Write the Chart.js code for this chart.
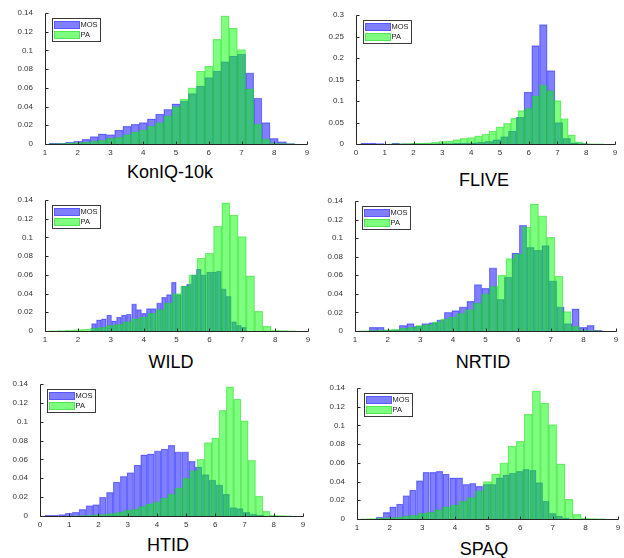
<!DOCTYPE html>
<html><head><meta charset="utf-8">
<script src="https://cdn.jsdelivr.net/npm/chart.js@4/dist/chart.umd.min.js"></script>
<style>
html,body{margin:0;padding:0;background:#fff;}
body{width:624px;height:558px;position:relative;overflow:hidden;font-family:"Liberation Sans",Arial,sans-serif;}
.panel{position:absolute;}
.title{position:absolute;font-size:18px;line-height:1;color:#000;transform:translate(-50%,-50%);white-space:nowrap;}
</style></head><body>
<script>
// ---------- DATA ----------
const panelTitles = ["KonIQ-10k", "FLIVE", "WILD", "NRTID", "HTID", "SPAQ"];
const seriesNames = ["MOS", "PA"];

// PA histogram (same predicted distribution in every panel), bin centres and densities
const paBinCenters = [1.25,1.5,1.75,2.0,2.25,2.5,2.75,3.0,3.25,3.5,3.75,4.0,4.25,4.5,4.75,5.0,5.25,5.5,5.75,6.0,6.25,6.5,6.75,7.0,7.25,7.5,7.75,8.0,8.25,8.5];
const paValues     = [0.0003,0.0005,0.001,0.0015,0.002,0.003,0.004,0.006,0.007,0.010,0.013,0.015,0.019,0.023,0.030,0.040,0.048,0.060,0.078,0.083,0.112,0.137,0.124,0.101,0.059,0.021,0.005,0.001,0.0005,0.0003];

// KonIQ-10k MOS
const konMosCenters = [1.25,1.5,1.75,2.0,2.25,2.5,2.75,3.0,3.25,3.5,3.75,4.0,4.25,4.5,4.75,5.0,5.25,5.5,5.75,6.0,6.25,6.5,6.75,7.0,7.25,7.5,7.75,8.0,8.25,8.5];
const konMosValues  = [0.0008,0.001,0.002,0.003,0.005,0.008,0.011,0.010,0.015,0.019,0.021,0.023,0.027,0.032,0.037,0.043,0.046,0.054,0.062,0.071,0.078,0.088,0.094,0.096,0.076,0.049,0.023,0.006,0.0025,0.0005];

// FLIVE MOS
const fliveMosCenters = [0.30,0.57,0.84,1.11,1.38,1.65,1.92,2.19,2.46,2.73,3.00,3.27,3.54,3.81,4.08,4.35,4.62,4.89,5.16,5.43,5.70,5.97,6.24,6.51,6.78,7.05,7.32,7.59,7.86];
const fliveMosValues  = [0.002,0.002,0.001,0,0.002,0.0005,0.0005,0.0005,0.0005,0.0005,0.001,0.001,0.0015,0.002,0.003,0.004,0.006,0.010,0.017,0.030,0.062,0.121,0.229,0.278,0.171,0.050,0.013,0.003,0.001];

// WILD MOS
const wildMosCenters = [2.49,2.64,2.79,2.95,3.10,3.25,3.40,3.55,3.71,3.86,4.01,4.16,4.31,4.47,4.62,4.77,4.92,5.07,5.23,5.38,5.53,5.68,5.83,5.99,6.14,6.29,6.44,6.59,6.75,6.90,7.05];
const wildMosValues  = [0.008,0.012,0.013,0.017,0.011,0.015,0.017,0.018,0.029,0.023,0.019,0.024,0.024,0.030,0.036,0.039,0.052,0.039,0.048,0.050,0.060,0.066,0.060,0.063,0.063,0.064,0.045,0.037,0.010,0.006,0.004];

// NRTID MOS
const nrtidMosCenters = [1.55,1.78,2.01,2.24,2.47,2.70,2.93,3.16,3.39,3.62,3.85,4.08,4.31,4.54,4.77,5.00,5.23,5.46,5.69,5.92,6.15,6.38,6.61,6.84,7.07,7.30,7.53,7.76,7.99,8.22,8.45];
const nrtidMosValues  = [0.004,0.004,0.001,0.001,0.006,0.008,0.005,0.008,0.009,0.012,0.020,0.022,0.026,0.032,0.050,0.046,0.068,0.034,0.058,0.084,0.114,0.090,0.087,0.092,0.054,0.026,0.008,0.024,0.004,0.006,0.001];

// HTID MOS
const htidMosCenters = [0.28,0.51,0.75,0.98,1.22,1.45,1.69,1.92,2.15,2.39,2.62,2.86,3.09,3.33,3.56,3.79,4.03,4.26,4.50,4.73,4.97,5.20,5.43,5.67,5.90,6.14,6.37,6.61,6.84,7.07,7.31,7.54];
const htidMosValues  = [0.001,0.001,0.0015,0.003,0.004,0.007,0.011,0.012,0.020,0.025,0.036,0.042,0.046,0.054,0.065,0.066,0.069,0.071,0.075,0.068,0.068,0.058,0.052,0.044,0.038,0.033,0.023,0.009,0.008,0.004,0.002,0.001];

// SPAQ MOS
const spaqMosCenters = [1.69,1.90,2.10,2.31,2.51,2.71,2.92,3.12,3.33,3.53,3.73,3.94,4.14,4.35,4.55,4.75,4.96,5.16,5.37,5.57,5.77,5.98,6.18,6.39,6.59,6.79,7.00,7.20,7.41];
const spaqMosValues  = [0.002,0.007,0.013,0.016,0.025,0.031,0.041,0.050,0.050,0.051,0.048,0.044,0.044,0.037,0.038,0.035,0.037,0.037,0.044,0.047,0.049,0.051,0.053,0.052,0.039,0.019,0.006,0.003,0.001];

// axis ranges / ticks per panel
const xMins   = [1, 0, 1, 1, 0, 1];
const xMaxs   = [9, 9, 9, 9, 9, 9];
const yMaxs   = [0.14, 0.3, 0.14, 0.14, 0.14, 0.14];
const ySteps  = [0.02, 0.05, 0.02, 0.02, 0.02, 0.02];

const mosCentersList = [konMosCenters, fliveMosCenters, wildMosCenters, nrtidMosCenters, htidMosCenters, spaqMosCenters];
const mosValuesList  = [konMosValues, fliveMosValues, wildMosValues, nrtidMosValues, htidMosValues, spaqMosValues];

// ---------- STYLE / LAYOUT ----------
const MOS_FILL = 'rgba(0,0,255,0.5)';
const PA_FILL  = 'rgba(0,255,0,0.5)';
const MOS_EDGE = 'rgba(40,40,255,0.45)';
const PA_EDGE  = 'rgba(30,200,30,0.45)';
const FONT = '"Liberation Sans", Arial, sans-serif';

// canvas boxes and plot rectangles (page pixels)
const layouts = [
  {cx:0,   cy:0,   cw:312, ch:160, L:45,  R:307, T:13,  B:144, tx:170, ty:172},
  {cx:312, cy:0,   cw:312, ch:160, L:356, R:615, T:15,  B:144, tx:484, ty:180},
  {cx:0,   cy:186, cw:312, ch:160, L:45,  R:308, T:200, B:331, tx:171, ty:362},
  {cx:312, cy:186, cw:312, ch:160, L:355, R:616, T:201, B:331, tx:483, ty:362},
  {cx:0,   cy:370, cw:312, ch:162, L:40,  R:303, T:384, B:516, tx:168, ty:545},
  {cx:312, cy:370, cw:312, ch:162, L:357, R:618, T:388, B:519, tx:484, ty:549}
];

const axesPlugin = {
  id: 'matAxes',
  afterDatasetsDraw(chart) {
    const {ctx, chartArea, scales} = chart;
    const L = Math.round(chartArea.left) + 0.5;
    const B = Math.round(chartArea.bottom) + 0.5;
    const Rt = Math.round(chartArea.right) + 0.5;
    const Tp = Math.round(chartArea.top) + 0.5;
    ctx.save();
    ctx.strokeStyle = '#262626';
    ctx.lineWidth = 1;
    ctx.beginPath();
    ctx.moveTo(L, Tp); ctx.lineTo(L, B); ctx.lineTo(Rt, B);
    scales.x.ticks.forEach(t => {
      const px = Math.round(scales.x.getPixelForValue(t.value)) + 0.5;
      ctx.moveTo(px, B); ctx.lineTo(px, B - 3);
    });
    scales.y.ticks.forEach(t => {
      const py = Math.round(scales.y.getPixelForValue(t.value)) + 0.5;
      ctx.moveTo(L, py); ctx.lineTo(L + 3, py);
    });
    ctx.stroke();
    // x tick labels
    ctx.fillStyle = '#333';
    ctx.font = '8px ' + FONT;
    ctx.textAlign = 'center';
    ctx.textBaseline = 'top';
    scales.x.ticks.forEach(t => {
      const px = scales.x.getPixelForValue(t.value);
      ctx.fillText(String(t.value), px, B + 4);
    });
    ctx.restore();
  }
};

const legendPlugin = {
  id: 'matLegend',
  afterDraw(chart) {
    const {ctx, chartArea} = chart;
    const bx = Math.round(chartArea.left) + 7, by = Math.round(chartArea.top) + 5;
    const bw = 48, bh = 23;
    ctx.save();
    ctx.fillStyle = '#fff';
    ctx.fillRect(bx, by, bw, bh);
    ctx.strokeStyle = '#3a3a3a';
    ctx.lineWidth = 1;
    ctx.strokeRect(bx + 0.5, by + 0.5, bw, bh);
    const rows = [[seriesNames[0], MOS_FILL, MOS_EDGE], [seriesNames[1], PA_FILL, PA_EDGE]];
    rows.forEach((r, i) => {
      const sy = by + 3 + i * 10;
      ctx.fillStyle = r[1];
      ctx.fillRect(bx + 2, sy, 26, 8);
      ctx.strokeStyle = r[2];
      ctx.strokeRect(bx + 2.5, sy + 0.5, 25, 7);
      ctx.fillStyle = '#1a1a1a';
      ctx.font = '7.5px ' + FONT;
      ctx.textBaseline = 'middle';
      ctx.fillText(r[0], bx + 28.5, sy + 4.3);
    });
    ctx.restore();
  }
};

function makePanel(i) {
  const lay = layouts[i];
  const div = document.createElement('div');
  div.className = 'panel';
  div.style.left = lay.cx + 'px';
  div.style.top = lay.cy + 'px';
  div.style.width = lay.cw + 'px';
  div.style.height = lay.ch + 'px';
  const c = document.createElement('canvas');
  c.width = lay.cw; c.height = lay.ch;
  c.style.width = lay.cw + 'px'; c.style.height = lay.ch + 'px';
  div.appendChild(c);
  document.body.appendChild(div);

  const t = document.createElement('div');
  t.className = 'title';
  t.style.left = lay.tx + 'px';
  t.style.top = lay.ty + 'px';
  t.textContent = panelTitles[i];
  document.body.appendChild(t);

  const yw = lay.L - lay.cx;
  const padR = lay.cx + lay.cw - lay.R;
  const padT = lay.T - lay.cy;
  const xh = lay.cy + lay.ch - lay.B;

  new Chart(c, {
    type: 'bar',
    data: {
      datasets: [
        {
          label: seriesNames[1],
          data: paBinCenters.map((x, k) => ({x: x, y: paValues[k]})),
          xAxisID: 'x', yAxisID: 'y',
          backgroundColor: PA_FILL, borderColor: PA_EDGE, borderWidth: 0.6,
          grouped: false, barPercentage: 1, categoryPercentage: 1, order: 0
        },
        {
          label: seriesNames[0],
          data: mosCentersList[i].map((x, k) => ({x: x, y: mosValuesList[i][k]})),
          xAxisID: 'x2', yAxisID: 'y',
          backgroundColor: MOS_FILL, borderColor: MOS_EDGE, borderWidth: 0.6,
          grouped: false, barPercentage: 1, categoryPercentage: 1, order: 1
        }
      ]
    },
    options: {
      responsive: false, animation: false, maintainAspectRatio: false,
      layout: {padding: {top: padT, right: padR, left: 0, bottom: 0}},
      plugins: {legend: {display: false}, tooltip: {enabled: false}, title: {display: false}},
      scales: {
        x: {
          type: 'linear', min: xMins[i], max: xMaxs[i], offset: false,
          grid: {display: false, offset: false}, border: {display: false},
          ticks: {stepSize: 1, display: false, autoSkip: false, maxRotation: 0},
          afterFit: s => { s.height = xh; }
        },
        x2: {
          type: 'linear', min: xMins[i], max: xMaxs[i], offset: false, display: false,
          grid: {display: false, offset: false}
        },
        y: {
          type: 'linear', min: 0, max: yMaxs[i], stacked: false,
          grid: {display: false}, border: {display: false},
          ticks: {stepSize: ySteps[i], padding: 4, font: {family: FONT, size: 8}, color: '#333',
                  callback: v => String(parseFloat(Number(v).toFixed(4)))},
          afterFit: s => { s.width = yw; }
        }
      }
    },
    plugins: [axesPlugin, legendPlugin]
  });
}

for (let i = 0; i < 6; i++) makePanel(i);
</script>
</body></html>
